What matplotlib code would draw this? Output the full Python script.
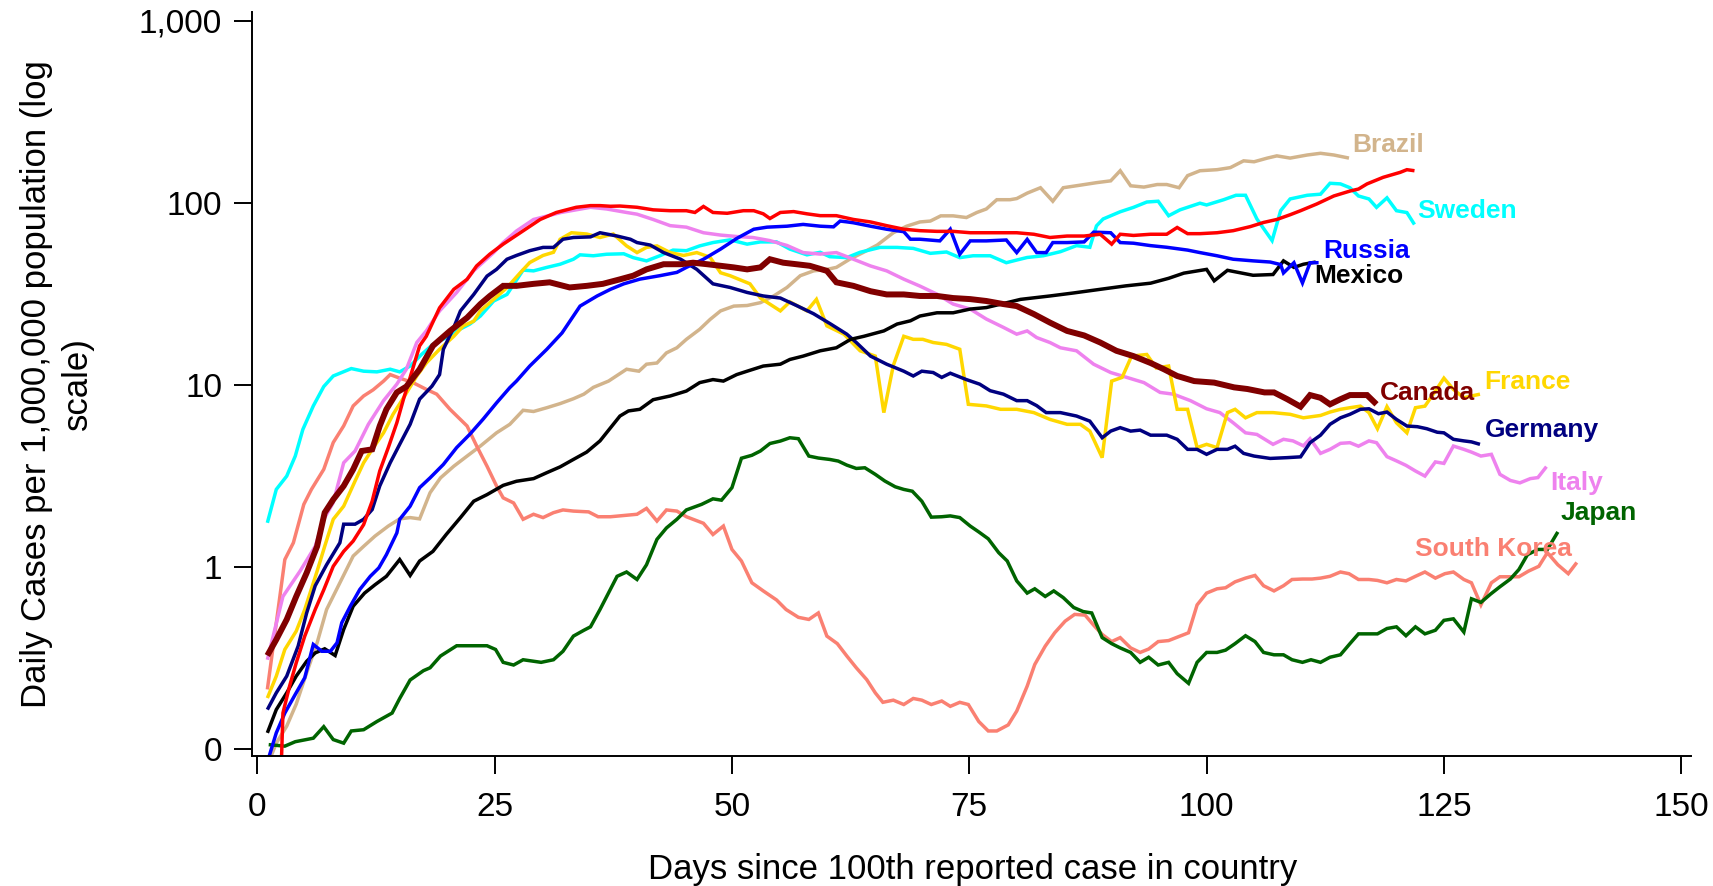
import matplotlib
matplotlib.use("Agg")
import matplotlib.pyplot as plt
from matplotlib.ticker import NullLocator

# ---------------- data (day since 100th case, daily cases per 1M) ----------------
brazil = [(1.2,0.085),(2.0,0.108),(3.1,0.134),(4.1,0.177),(5.2,0.263),(6.3,0.384),(7.3,0.585),(8.7,0.82),
          (10.1,1.15),(11.2,1.30),(12.4,1.48),(13.8,1.68),(15.0,1.84),(16.1,1.87),(17.1,1.84),(18.2,2.56),
          (19.3,3.09),(20.7,3.58),(22.1,4.07),(23.5,4.62),(25.2,5.46),(26.6,6.08),(28.0,7.26),(29.1,7.15),
          (30.5,7.5),(31.9,7.9),(33.3,8.4),(34.4,8.9),(35.4,9.7),(37.0,10.5),(38.9,12.2),(40.2,11.9),
          (41.0,13.0),(42.1,13.2),(43.1,15.0),(44.2,16.0),(45.2,17.8),(46.6,20.2),(47.7,22.9),(48.8,25.5),
          (50.2,27.1),(51.6,27.3),(53.0,28.3),(54.4,30.8),(55.8,34.3),(57.2,39.8),(58.6,42.3),(60.0,43.1),
          (61.0,44.2),(62.4,49),(63.8,53.3),(65.3,58.6),(67.0,68.5),(68.4,74.4),(69.8,78.5),(70.9,79.4),
          (72.0,84.8),(73.3,84.8),(74.7,83),(75.8,88.5),(76.8,92.5),(77.9,104),(79.3,104),(80.0,105.5),
          (81.1,113),(82.5,121),(83.8,102),(84.9,121),(86.7,125),(88.4,129),(89.9,132),(90.9,150),
          (92.0,124),(93.4,122),(94.8,126),(95.8,126),(97.1,121),(98.0,141),(99.3,150),(101.1,152),
          (102.5,156),(103.9,170),(105.0,168),(106.4,176),(107.4,181),(108.8,176),(110.6,183),(112.0,187),
          (113.4,183),(115.0,176)]

sweden = [(1.06,1.75),(2.0,2.67),(3.1,3.16),(4.0,4.07),(4.8,5.7),(5.9,7.67),(7.0,9.8),(8.0,11.2),(9.9,12.3),
          (11.2,11.9),(12.6,11.8),(14.0,12.2),(15.0,11.8),(16.1,12.7),(17.3,14.7),(18.5,16.7),(19.9,18.2),
          (21.0,19.8),(22.4,21.6),(23.5,23.9),(24.9,28.9),(26.3,31.4),(28.0,42.7),(29.1,42.3),(30.5,44.2),
          (31.9,46),(33.3,49),(34.0,51.8),(35.4,51.2),(36.8,52.2),(38.6,52.5),(39.6,50),(41.0,48),(42.4,51.2),
          (43.8,55),(45.2,54.6),(46.6,58),(48.0,60.5),(49.8,62.6),(51.6,59.3),(53.0,61),(54.7,61),(56.1,55.7),
          (57.9,51.8),(59.3,53.5),(60.3,50.6),(62.1,50),(63.5,53.5),(65.6,56.9),(67.4,56.9),(69.1,56.2),
          (70.9,52.8),(72.6,53.7),(74.0,50),(75.4,51.2),(77.2,51.2),(78.9,46.9),(80.0,48.5),(81.1,50.1),
          (82.8,51.2),(84.6,53.9),(86.3,58.2),(87.7,57),(88.4,74.7),(89.1,81.5),(90.9,89.3),(92.3,94.4),
          (93.7,101),(94.9,102),(96.0,84.9),(97.2,91.5),(99.3,99.5),(100.0,97.3),(101.8,104),(103.1,110),
          (104.1,110),(105.3,81.5),(106.9,62),(107.8,90.5),(108.8,105),(110.6,110),(112.0,111.5),(113.0,128),
          (114.1,127),(115.1,121),(116.0,109),(117.1,105),(117.9,94.4),(119.0,106.5),(120.0,90.5),
          (121.1,88.4),(121.9,76)]

south_korea = [(1.06,0.213),(2.9,1.10),(3.8,1.36),(4.9,2.21),(5.7,2.67),(7.0,3.44),(8.0,4.83),(9.1,5.96),
               (10.1,7.67),(11.2,8.7),(12.2,9.4),(13.3,10.5),(14.0,11.4),(15.0,10.9),(16.4,10.3),(17.8,9.46),
               (18.9,8.9),(20.3,7.35),(22.1,5.95),(23.1,4.63),(24.2,3.58),(25.2,2.79),(25.9,2.4),(27.0,2.25),
               (28.0,1.83),(29.1,1.95),(30.1,1.87),(31.2,1.99),(32.2,2.06),(33.3,2.03),(34.9,2.01),(35.9,1.89),
               (37.2,1.89),(38.6,1.92),(40.0,1.95),(41.0,2.1),(42.1,1.79),(43.1,2.06),(44.2,2.03),(45.2,1.89),
               (47.0,1.74),(48.0,1.51),(49.1,1.68),(50.0,1.25),(51.0,1.08),(52.1,0.82),(53.3,0.74),(54.7,0.66),
               (55.7,0.585),(57.0,0.53),(58.1,0.516),(59.1,0.56),(60.0,0.418),(61.1,0.38),(62.1,0.325),
               (63.1,0.28),(64.2,0.241),(65.1,0.204),(65.9,0.181),(67.0,0.186),(68.1,0.176),(69.1,0.19),
               (70.0,0.186),(71.0,0.176),(72.1,0.184),(73.0,0.172),(74.0,0.181),(74.9,0.176),(76.0,0.142),
               (77.0,0.126),(77.9,0.126),(79.1,0.136),(80.0,0.162),(81.1,0.222),(81.9,0.292),(83.0,0.368),
               (84.0,0.436),(85.1,0.505),(86.1,0.55),(87.2,0.545),(88.1,0.48),(89.0,0.427),(90.0,0.39),
               (90.9,0.41),(92.0,0.36),(93.0,0.34),(93.9,0.355),(94.9,0.39),(96.0,0.395),(97.0,0.414),
               (98.1,0.436),(99.0,0.62),(100.0,0.72),(101.1,0.76),(102.0,0.77),(103.0,0.83),(104.1,0.87),
               (105.1,0.90),(106.0,0.79),(107.1,0.74),(108.1,0.79),(109.0,0.855),(110.1,0.86),(111.1,0.86),
               (112.0,0.87),(113.0,0.89),(114.1,0.94),(115.0,0.92),(116.0,0.855),(117.1,0.855),(118.0,0.845),
               (119.0,0.82),(120.0,0.855),(121.0,0.84),(122.0,0.89),(123.0,0.94),(124.1,0.87),(125.1,0.92),
               (126.0,0.94),(127.1,0.855),(127.9,0.82),(128.9,0.62),(130.0,0.82),(130.9,0.885),(132.0,0.885),
               (132.9,0.885),(133.9,0.95),(135.0,1.01),(135.9,1.2),(137.0,1.03),(138.1,0.92),(139.0,1.06)]

japan = [(1.2,0.106),(2.9,0.104),(4.0,0.11),(5.9,0.115),(7.0,0.133),(8.0,0.113),(9.1,0.108),(9.9,0.126),
         (11.2,0.128),(12.6,0.142),(14.2,0.158),(15.0,0.19),(16.1,0.24),(17.5,0.27),(18.2,0.28),(19.3,0.325),
         (21.0,0.37),(22.8,0.37),(24.2,0.37),(25.1,0.353),(25.9,0.30),(27.0,0.29),(28.0,0.31),(29.9,0.30),
         (31.2,0.31),(32.2,0.345),(33.3,0.418),(34.4,0.45),(35.1,0.47),(36.1,0.585),(37.9,0.89),(38.9,0.94),
         (40.0,0.855),(41.0,1.03),(42.1,1.42),(43.1,1.64),(44.2,1.83),(45.2,2.06),(46.8,2.21),(48.0,2.37),
         (48.9,2.33),(50.0,2.73),(51.0,3.96),(52.1,4.11),(53.0,4.34),(54.0,4.77),(55.1,4.92),(56.1,5.13),
         (57.0,5.07),(58.1,4.07),(59.1,3.97),(60.3,3.9),(61.2,3.82),(62.1,3.63),(63.1,3.48),(64.0,3.51),
         (65.1,3.23),(66.1,2.97),(67.2,2.76),(68.1,2.67),(69.0,2.61),(70.0,2.30),(71.0,1.88),(72.1,1.89),
         (73.0,1.91),(74.0,1.87),(75.1,1.68),(76.0,1.56),(77.0,1.43),(78.1,1.20),(79.0,1.08),(80.0,0.84),
         (81.1,0.72),(81.9,0.76),(83.0,0.69),(83.9,0.74),(84.9,0.68),(86.0,0.60),(87.0,0.57),(87.9,0.56),
         (89.0,0.41),(90.0,0.38),(90.9,0.36),(92.0,0.34),(93.0,0.30),(93.9,0.32),(94.9,0.29),(96.0,0.30),
         (96.9,0.26),(98.1,0.23),(99.0,0.30),(100.0,0.34),(101.1,0.34),(102.0,0.35),(103.0,0.38),(104.1,0.42),
         (105.1,0.39),(106.0,0.34),(107.1,0.33),(108.1,0.33),(109.0,0.31),(110.1,0.30),(111.0,0.31),
         (112.0,0.30),(113.0,0.32),(114.1,0.33),(115.1,0.38),(116.0,0.43),(117.1,0.43),(118.0,0.43),
         (119.0,0.46),(120.0,0.47),(121.0,0.42),(122.0,0.47),(123.0,0.43),(124.1,0.45),(125.0,0.51),
         (126.0,0.52),(127.1,0.44),(127.9,0.67),(128.9,0.64),(129.9,0.71),(130.9,0.78),(132.0,0.86),
         (132.9,0.97),(133.8,1.17),(134.9,1.25),(135.9,1.25),(137.0,1.56)]

italy = [(1.06,0.31),(2.7,0.69),(4.5,0.95),(6.1,1.30),(7.0,1.83),(8.0,2.26),(9.1,3.74),(10.3,4.34),(11.7,6.08),
         (13.3,8.2),(14.7,10.1),(15.7,12.2),(16.8,17.1),(17.8,19.8),(19.2,25.5),(21.0,32.2),(22.8,42.4),
         (24.9,53.3),(25.9,60.5),(27.3,70),(29.1,81),(32.0,88.5),(35.1,94.5),(36.8,92.5),(38.9,88.5),
         (40.0,86.6),(41.7,81),(43.5,74.9),(45.2,73.5),(47.0,68.5),(48.8,66.5),(50.5,65.3),(52.2,64.5),
         (54.0,62),(55.8,58.3),(57.5,53.3),(59.3,52.3),(61.0,53.3),(62.8,49),(64.6,45),(66.3,42.3),(68.1,38.1),
         (69.8,34.9),(71.6,31.5),(73.3,27.8),(75.1,26.1),(76.8,23),(78.6,20.7),(80.0,19.0),(81.1,19.8),
         (82.1,18.2),(83.5,17.1),(84.6,16.0),(86.3,15.4),(88.1,13.0),(89.9,11.7),(91.6,11.0),(93.4,10.3),
         (95.1,9.1),(96.5,8.9),(98.3,8.2),(100.0,7.4),(101.4,7.05),(102.8,6.2),(104.1,5.46),(105.3,5.35),
         (107.0,4.72),(108.1,5.03),(109.1,4.93),(110.2,4.63),(110.9,5.07),(112.0,4.21),(113.0,4.43),
         (114.1,4.78),(115.1,4.82),(116.0,4.61),(117.1,4.93),(117.9,4.82),(119.0,4.04),(120.0,3.83),
         (121.0,3.62),(122.0,3.37),(123.0,3.16),(124.1,3.78),(125.0,3.71),(126.0,4.62),(127.1,4.43),
         (127.9,4.28),(128.9,4.07),(130.0,4.16),(130.9,3.23),(132.0,2.99),(133.0,2.90),(134.1,3.06),
         (134.9,3.1),(135.8,3.56)]

germany = [(1.06,0.165),(2.0,0.204),(3.1,0.252),(4.3,0.368),(5.2,0.56),(6.1,0.79),(7.3,1.03),(8.7,1.36),
           (9.1,1.72),(10.3,1.72),(11.2,1.83),(12.1,2.07),(12.9,2.79),(14.0,3.74),(15.0,4.72),(16.1,6.08),
           (17.1,8.36),(18.4,9.85),(19.2,11.4),(19.6,15.7),(20.7,20.7),(21.4,25.5),(22.8,31.4),(24.2,39.6),
           (25.2,43.1),(26.3,49),(27.3,51.4),(28.7,54.6),(30.1,56.9),(31.2,56.9),(32.2,63.1),(33.3,64.5),
           (35.1,65),(36.1,68.5),(37.9,65.7),(39.3,63.1),(40.0,60.5),(41.4,58.6),(42.8,53.3),(44.6,49),
           (46.3,43.1),(48.0,35.9),(49.8,34.3),(51.6,32.2),(53.3,30.8),(55.1,30.0),(56.8,27.3),(58.6,24.6),
           (60.4,21.6),(62.1,19.0),(63.1,17.1),(64.6,14.4),(66.3,13.0),(68.1,11.9),(69.1,11.2),(70.0,11.9),
           (71.2,11.7),(72.1,11.0),(73.0,11.6),(74.7,10.7),(76.1,10.1),(77.2,9.3),(78.6,8.9),(80.0,8.2),
           (81.1,8.2),(82.1,7.7),(83.1,7.05),(84.6,7.05),(86.3,6.75),(87.7,6.33),(89.0,5.13),(89.9,5.58),
           (90.9,5.83),(92.0,5.58),(93.0,5.65),(94.1,5.3),(95.8,5.3),(96.9,5.03),(98.0,4.43),(99.0,4.43),
           (100.0,4.16),(101.1,4.43),(102.2,4.43),(103.0,4.61),(103.9,4.21),(105.0,4.07),(106.7,3.95),
           (108.5,3.99),(109.9,4.03),(110.9,4.82),(112.0,5.3),(113.0,6.08),(114.1,6.6),(115.1,6.9),
           (116.2,7.35),(117.1,7.4),(118.1,6.95),(119.0,7.1),(120.0,6.47),(121.1,5.95),(122.2,5.9),
           (123.2,5.75),(124.3,5.5),(125.0,5.46),(126.0,5.03),(127.1,4.93),(127.9,4.87),(128.8,4.72)]

france = [(1.06,0.191),(2.0,0.252),(2.9,0.353),(4.1,0.445),(5.0,0.585),(6.3,0.95),(7.1,1.30),(8.0,1.83),
          (9.1,2.16),(10.3,2.97),(11.2,3.74),(12.1,4.43),(13.3,5.46),(14.3,6.9),(15.4,8.5),(16.8,11.2),
          (17.8,13.2),(19.2,15.7),(20.7,18.5),(21.7,21.1),(22.8,22.4),(23.5,25.5),(24.9,29.5),(26.3,34.2),
          (27.7,41.3),(28.7,47),(30.1,51.4),(31.2,53.5),(31.9,63.1),(33.1,68.5),(34.7,67.4),(36.1,64.5),
          (37.5,67.4),(38.9,58),(40.0,53.3),(41.0,56.9),(42.1,58),(43.5,53.3),(44.9,51.4),(46.3,53.3),
          (47.7,50.2),(48.8,41.3),(49.8,39.8),(51.9,35.9),(53.0,30.0),(55.1,25.5),(56.1,28.6),(57.9,25.5),
          (58.9,29.5),(60.0,21.1),(61.8,19.0),(63.5,15.4),(65.1,14.4),(66.0,7.05),(67.0,12.8),(68.1,18.5),
          (69.1,17.8),(70.1,17.8),(71.2,17.1),(72.6,16.7),(74.0,15.7),(74.9,7.83),(76.8,7.67),(78.3,7.35),
          (80.0,7.35),(81.8,7.05),(83.5,6.47),(85.3,6.08),(86.7,6.08),(87.7,5.58),(89.0,3.99),(90.0,10.5),
          (91.1,11.0),(92.1,14.4),(93.7,14.7),(94.7,12.4),(96.0,12.7),(96.9,7.35),(98.0,7.35),(99.0,4.53),
          (100.0,4.72),(101.1,4.53),(102.2,7.05),(103.0,7.35),(104.1,6.6),(105.3,7.05),(107.0,7.05),
          (108.8,6.9),(110.2,6.6),(112.0,6.8),(113.0,7.1),(114.1,7.35),(115.1,7.5),(116.2,7.65),(117.1,7.05),
          (118.0,5.75),(119.0,7.6),(120.0,6.2),(121.1,5.46),(122.0,7.5),(123.0,7.65),(124.1,9.26),
          (125.0,10.9),(126.0,9.45),(127.1,8.5),(127.9,8.7),(128.8,8.9)]

mexico = [(1.06,0.123),(2.0,0.165),(3.1,0.204),(4.1,0.252),(5.2,0.304),(6.1,0.338),(7.1,0.356),(8.2,0.327),
          (9.1,0.455),(10.1,0.61),(11.3,0.72),(12.4,0.8),(13.6,0.89),(15.0,1.10),(16.1,0.9),(17.1,1.08),
          (18.5,1.22),(19.9,1.51),(21.4,1.87),(22.8,2.3),(24.2,2.5),(25.9,2.81),(27.3,2.96),(29.1,3.06),
          (30.5,3.3),(31.9,3.55),(33.3,3.9),(34.7,4.28),(36.1,4.93),(38.2,6.75),(39.1,7.2),(40.3,7.35),
          (41.7,8.3),(43.5,8.7),(45.2,9.26),(46.6,10.3),(48.0,10.7),(49.1,10.5),(50.5,11.4),(51.6,11.9),
          (53.3,12.7),(55.1,13.0),(56.1,13.8),(57.5,14.4),(59.3,15.4),(61.0,16.0),(62.5,17.8),(63.9,18.5),
          (66.0,19.8),(67.4,21.6),(68.8,22.5),(69.8,23.9),(71.6,24.9),(73.3,24.9),(75.1,26.1),(76.8,26.6),
          (78.6,28.0),(80.4,29.5),(83.5,30.8),(86.0,32.0),(88.8,33.5),(91.5,35.0),(94.1,36.2),(96.0,38.5),
          (97.6,41.1),(100.0,43.1),(100.8,37.3),(102.2,42.6),(104.9,40),(107.0,40.4),(108.1,48),(109.2,44.2),
          (110.2,46),(111.5,47.3)]

russia = [(1.06,0.085),(2.0,0.123),(2.9,0.158),(4.0,0.2),(5.0,0.247),(5.9,0.376),(6.8,0.345),(7.7,0.345),
          (8.4,0.384),(8.9,0.495),(9.8,0.61),(10.8,0.754),(11.9,0.89),(12.8,0.99),(13.6,1.17),(14.7,1.54),
          (15.0,1.83),(16.1,2.16),(17.1,2.73),(18.2,3.09),(19.6,3.66),(21.0,4.53),(22.4,5.37),(23.8,6.5),
          (25.2,7.97),(26.6,9.67),(27.3,10.5),(28.7,12.7),(30.5,15.7),(32.1,19.3),(34.0,27.1),(35.8,30.8),
          (37.2,33.5),(38.6,35.9),(40.3,38.1),(42.4,39.8),(44.2,41.5),(45.2,44.2),(47.0,49),(48.8,55.7),
          (50.5,63.7),(52.3,71.6),(53.7,73.5),(55.8,74.4),(57.5,76.1),(59.3,74.4),(60.7,73.8),(61.4,79.4),
          (62.1,78.6),(62.8,77.7),(64.6,74.4),(66.3,71.6),(68.1,69.4),(68.8,63.1),(69.8,63.1),(71.9,61.8),
          (73.0,71.6),(74.0,52.2),(75.1,61.8),(76.8,61.8),(78.9,62.5),(80.0,53.3),(81.1,63),(82.1,53.3),
          (83.1,53.3),(83.8,60.5),(85.3,60.5),(87.1,61),(88.1,69),(89.9,68.5),(90.9,60.5),(92.3,60),
          (94.1,58.2),(95.8,57),(98.0,55),(99.3,53.3),(101.1,51.2),(102.8,49.0),(104.9,48),(106.7,47.3),
          (107.8,45.8),(108.1,41.2),(109.2,46.9),(110.1,36.3),(110.9,46.9),(111.8,46.9)]

us_red = [(2.4,0.05),(2.7,0.158),(3.4,0.222),(4.1,0.298),(5.0,0.418),(6.1,0.585),(7.0,0.75),(8.0,1.01),
          (9.1,1.22),(10.1,1.39),(11.2,1.71),(12.1,2.3),(12.9,3.37),(13.8,4.53),(14.7,6.2),(15.4,8.36),
          (16.1,11.0),(17.1,16.4),(17.8,18.5),(19.2,26.5),(20.7,33.5),(22.1,38),(23.1,45),(24.5,52.3),
          (25.9,59.3),(27.7,68.5),(29.8,81),(31.5,88.5),(33.6,94.5),(35.1,96.5),(36.1,96.5),(37.2,95.7),
          (38.2,96),(40.0,94.5),(41.7,91.5),(43.5,90.5),(45.2,90.5),(46.1,88.5),(47.0,95.5),(48.0,88.5),
          (49.5,87.6),(51.2,90.5),(52.3,90.5),(53.3,87),(54.0,82),(55.1,88.5),(56.5,89.5),(57.9,87),
          (59.3,85),(61.0,85),(62.8,81),(64.6,78.5),(66.3,74.9),(68.1,71.6),(69.8,70.3),(71.6,69.7),
          (73.3,69.7),(75.1,68.5),(76.8,68.5),(78.6,68.5),(80.0,68.5),(81.8,67.2),(83.5,64.5),(85.3,65.7),
          (87.1,65.7),(88.8,67.2),(90.0,59.3),(90.9,67.2),(92.3,66.2),(94.1,67.2),(95.8,67.2),(96.9,73.2),
          (98.0,67.7),(99.3,67.7),(101.1,68.5),(102.8,70.3),(104.6,74),(106.0,78),(107.4,81),(108.8,86),
          (109.9,90.5),(111.6,98.5),(113.4,109),(115.1,116),(116.0,119),(116.9,127),(118.6,138),
          (120.4,147),(121.1,152),(121.9,150)]

canada = [(1.06,0.327),(2.0,0.40),(3.1,0.516),(4.1,0.69),(5.2,0.93),(6.3,1.30),(7.1,1.99),(8.0,2.35),
          (9.1,2.79),(10.1,3.44),(11.0,4.34),(12.1,4.43),(12.9,5.96),(13.6,7.35),(14.7,9.1),(15.7,9.8),
          (17.1,12.2),(18.5,16.4),(20.3,19.8),(22.1,23.4),(23.5,27.8),(24.5,30.8),(25.9,35),(27.3,35),
          (29.1,35.9),(30.8,36.6),(32.9,34.3),(34.7,35),(36.4,35.9),(38.2,38),(39.6,39.8),(41.0,43.1),
          (42.8,46),(44.6,46),(45.9,46.9),(47.4,46),(48.8,45.1),(50.2,44.2),(51.6,43.1),(53.0,44.2),
          (54.0,49),(55.4,46.9),(56.8,46),(58.2,45.1),(60.0,42.3),(61.0,36.6),(62.8,35),(64.6,32.7),
          (66.3,31.4),(68.1,31.4),(69.8,30.8),(71.6,30.8),(73.3,30.0),(75.1,29.6),(76.8,28.9),(78.6,27.8),
          (80.0,27.1),(81.8,24.5),(83.5,22.0),(85.3,19.8),(87.1,18.7),(88.8,17.1),(90.5,15.4),(92.3,14.4),
          (94.1,13.2),(95.5,12.2),(96.9,11.2),(98.7,10.5),(100.8,10.3),(102.9,9.7),(104.3,9.5),(106.1,9.1),
          (107.1,9.1),(108.5,8.35),(109.9,7.6),(110.9,8.8),(112.0,8.5),(113.0,7.83),(114.1,8.35),
          (115.1,8.8),(116.9,8.8),(117.9,7.83)]

# series: (name shown, data, colour, line width, label anchor day, label anchor value)
series = [
    ("Brazil", brazil, "#D2B48C", 2.5, 115.3, 208),
    ("Sweden", sweden, "#00FFFF", 2.5, 122.2, 90.3),
    ("South Korea", south_korea, "#FA8072", 2.5, 122.0, 1.25),
    ("Japan", japan, "#006400", 2.5, 137.3, 1.97),
    ("Italy", italy, "#EE82EE", 2.5, 136.2, 2.91),
    ("France", france, "#FFD700", 2.5, 129.3, 10.35),
    ("Germany", germany, "#000080", 2.5, 129.3, 5.66),
    ("Mexico", mexico, "#000000", 2.5, 111.3, 39.7),
    ("Russia", russia, "#0000FF", 2.5, 112.3, 54.5),
    ("", us_red, "#FF0000", 2.5, None, None),
    ("Canada", canada, "#800000", 4.3, 118.3, 9.08),
]

ytick_vals = [0.1, 1, 10, 100, 1000]
ytick_labels = ["0", "1", "10", "100", "1,000"]
xtick_vals = [0, 25, 50, 75, 100, 125, 150]
xlabel = "Days since 100th reported case in country"
ylabel = "Daily Cases per 1,000,000 population (log\nscale)"

# ---------------- drawing ----------------
plt.rcParams["font.family"] = ["Liberation Sans", "DejaVu Sans"]

fig = plt.figure(figsize=(17.13, 8.86), dpi=100)
ax = fig.add_axes([0.1471, 0.1471, 0.8399, 0.8397])

for name, data, color, lw, lx, ly in series:
    xs = [p[0] for p in data]
    ys = [p[1] for p in data]
    ax.plot(xs, ys, color=color, lw=lw, solid_joinstyle="miter", solid_capstyle="butt")
    if name:
        ax.text(lx, ly, name, color=color, fontsize=19, fontweight="bold",
                ha="left", va="center")

ax.set_yscale("log")
ax.set_xlim(-0.56, 151.0)
ax.set_ylim(0.0922, 1120)
ax.set_yticks(ytick_vals)
ax.set_yticklabels(ytick_labels)
ax.yaxis.set_minor_locator(NullLocator())
ax.set_xticks(xtick_vals)
ax.set_xticklabels([str(v) for v in xtick_vals])

for s in ("top", "right"):
    ax.spines[s].set_visible(False)
for s in ("left", "bottom"):
    ax.spines[s].set_linewidth(1.4)

ax.tick_params(axis="both", direction="out", length=13, width=1.4, labelsize=24, color="black")
ax.tick_params(axis="y", pad=8.5)
ax.tick_params(axis="x", pad=13)

fig.text(0.568, 0.0079, xlabel, ha="center", va="baseline", fontsize=25)
fig.text(0.0333, 0.567, ylabel, rotation=90, ha="center", va="center",
         multialignment="center", fontsize=25, linespacing=1.3)

fig.savefig("out.png", dpi=100)
